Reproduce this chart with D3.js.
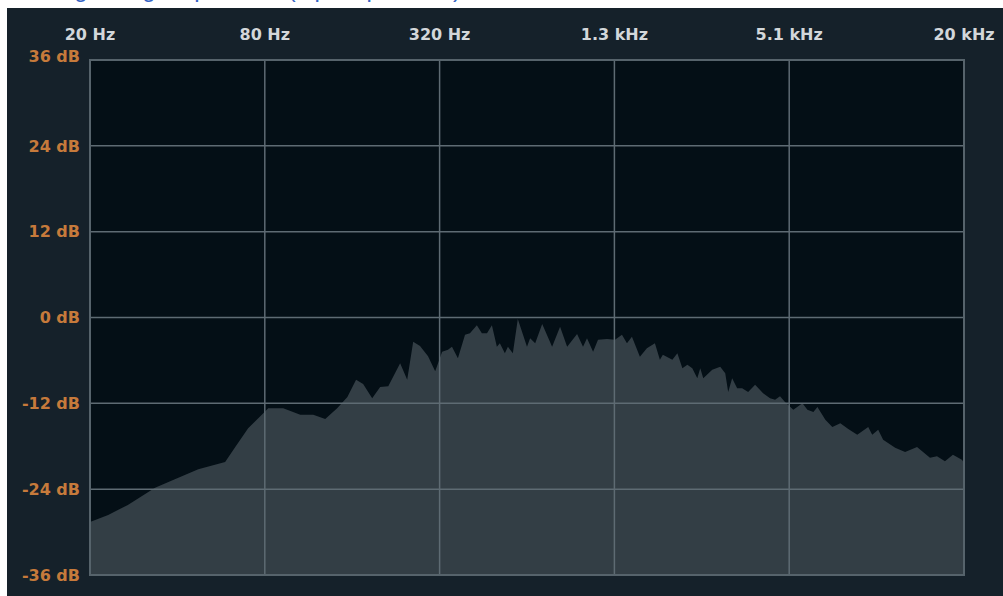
<!DOCTYPE html>
<html>
<head>
<meta charset="utf-8">
<script src="https://d3js.org/d3.v7.min.js"></script>
<style>
    html, body { margin: 0; padding: 0; background: #ffffff; }
    #spectrum { width: 1003px; height: 596px; }
    .axis-label { font-family: "DejaVu Sans", sans-serif; font-weight: bold; font-size: 16px; }
</style>
</head>
<body>
<div id="spectrum"></div>
<script>

// spectrum: frequency (Hz) and level (dB)
const freqHz = [20, 23.1, 27, 33.5, 39.2, 47.2, 58.4, 63.3, 70.1, 80.3, 82.2, 92.6, 106, 117.5, 129.2, 142, 154, 165,
    174.5, 187.5, 199.7, 213, 234, 247.5, 259.5, 274, 292, 309, 326.5, 342, 353, 370, 391.5, 407, 430, 447.5, 466,
    484.5, 504, 516, 537, 550, 572, 595, 640, 656, 683, 722, 781, 832, 880, 952, 998, 1030, 1081, 1124, 1207, 1286,
    1359, 1414, 1471, 1567, 1656, 1765, 1836, 1880, 2027, 2109, 2195, 2283, 2374, 2470, 2529, 2590, 2781, 2963,
    3083, 3156, 3257, 3388, 3526, 3697, 3907, 4163, 4399, 4577, 4761, 4952, 5290, 5687, 5915, 6203, 6404, 6820,
    7209, 7679, 8180, 8783, 9582, 9890, 10371, 10786, 11863, 12839, 14113, 15636, 16532, 17611, 18758, 20137, 20480];

const levelDb = [-28.6, -27.6, -26.2, -23.8, -22.6, -21.2, -20.2, -18.1, -15.5, -13.1, -12.7, -12.7, -13.6, -13.6,
    -14.2, -12.7, -11.1, -8.7, -9.3, -11.3, -9.7, -9.6, -6.4, -8.7, -3.4, -4.0, -5.4, -7.5, -4.8, -4.5, -4.1, -5.7,
    -2.4, -2.2, -1.1, -2.2, -2.2, -1.1, -4.1, -3.6, -5.0, -4.1, -5.0, -0.2, -4.1, -2.9, -3.6, -0.9, -4.1, -1.3, -4.1,
    -2.3, -4.1, -2.9, -4.8, -3.1, -3.0, -3.1, -2.4, -3.6, -2.7, -5.5, -4.3, -3.6, -5.9, -5.2, -5.9, -5.0, -7.1, -6.6,
    -7.1, -8.5, -7.1, -8.5, -7.3, -6.9, -7.8, -10.4, -8.5, -9.9, -9.9, -10.4, -9.4, -10.6, -11.3, -11.5, -11.0,
    -11.8, -12.9, -12.0, -12.9, -13.2, -12.5, -14.3, -15.3, -14.8, -15.6, -16.4, -15.3, -16.4, -15.7, -17.1, -18.2,
    -18.8, -18.1, -19.6, -19.4, -20.1, -19.2, -19.9, -20.3];

// axis ticks
const freqTicks = [20, 80, 320, 1280, 5120, 20480];
const freqLabels = ["20 Hz", "80 Hz", "320 Hz", "1.3 kHz", "5.1 kHz", "20 kHz"];
const dbTicks = [36, 24, 12, 0, -12, -24, -36];
const dbLabels = ["36 dB", "24 dB", "12 dB", "0 dB", "-12 dB", "-24 dB", "-36 dB"];

class SpectrumChart {

    constructor(parentElement, freqs, levels){
        this.parentElement = parentElement;
        this.displayData = freqs.map((f, i) => ({freq: f, db: levels[i]}));
        this.initVis();
    }

    initVis(){
        let vis = this;

        vis.width = 1003;
        vis.height = 596;
        vis.plot = {left: 90, top: 60, right: 964, bottom: 575};

        vis.svg = d3.select("#" + vis.parentElement).append("svg")
            .attr("width", vis.width)
            .attr("height", vis.height);

        // heading above the panel, cut off by the top edge like in the screenshot
        vis.svg.append("text")
            .attr("x", 12)
            .attr("y", -3.5)
            .attr("font-family", "Liberation Sans, sans-serif")
            .attr("font-size", 24)
            .attr("fill", "#3463c4")
            .text("Average range, spectrum (input spectrum)");

        // dark panel
        vis.svg.append("rect")
            .attr("x", 7).attr("y", 8)
            .attr("width", vis.width - 7).attr("height", vis.height - 8)
            .attr("fill", "#15212a");

        vis.x = d3.scaleLog()
            .domain([20, 20480])
            .range([vis.plot.left, vis.plot.right]);

        vis.y = d3.scaleLinear()
            .domain([-36, 36])
            .range([vis.plot.bottom, vis.plot.top]);

        vis.svg.append("rect")
            .attr("x", vis.plot.left).attr("y", vis.plot.top)
            .attr("width", vis.plot.right - vis.plot.left)
            .attr("height", vis.plot.bottom - vis.plot.top)
            .attr("fill", "#040f16");

        vis.updateVis();
    }

    updateVis(){
        let vis = this;

        vis.area = d3.area()
            .x(d => vis.x(d.freq))
            .y0(vis.y(-36))
            .y1(d => vis.y(d.db));

        vis.svg.append("path")
            .datum(vis.displayData)
            .attr("d", vis.area)
            .attr("fill", "#333e45");

        // grid
        vis.svg.selectAll(".vgrid")
            .data(freqTicks.slice(1, -1))
            .join("line")
            .attr("class", "vgrid")
            .attr("x1", d => vis.x(d)).attr("x2", d => vis.x(d))
            .attr("y1", vis.plot.top).attr("y2", vis.plot.bottom)
            .attr("stroke", "#5e6b73")
            .attr("stroke-width", 1.5);

        vis.svg.selectAll(".hgrid")
            .data(dbTicks.slice(1, -1))
            .join("line")
            .attr("class", "hgrid")
            .attr("x1", vis.plot.left).attr("x2", vis.plot.right)
            .attr("y1", d => vis.y(d)).attr("y2", d => vis.y(d))
            .attr("stroke", "#5e6b73")
            .attr("stroke-width", 1.5);

        vis.svg.append("rect")
            .attr("x", vis.plot.left).attr("y", vis.plot.top)
            .attr("width", vis.plot.right - vis.plot.left)
            .attr("height", vis.plot.bottom - vis.plot.top)
            .attr("fill", "none")
            .attr("stroke", "#56636b")
            .attr("stroke-width", 2);

        // labels
        vis.svg.selectAll(".x-label")
            .data(freqTicks)
            .join("text")
            .attr("class", "x-label axis-label")
            .attr("x", d => vis.x(d))
            .attr("y", 40)
            .attr("text-anchor", "middle")
            .attr("fill", "#d3d7da")
            .text((d, i) => freqLabels[i]);

        vis.svg.selectAll(".y-label")
            .data(dbTicks)
            .join("text")
            .attr("class", "y-label axis-label")
            .attr("x", 80)
            .attr("y", d => vis.y(d))
            .attr("dy", (d, i) => i === 0 ? "0.1em" : "0.36em")
            .attr("text-anchor", "end")
            .attr("fill", "#c67a3b")
            .text((d, i) => dbLabels[i]);
    }
}

new SpectrumChart("spectrum", freqHz, levelDb);
</script>
</body>
</html>
